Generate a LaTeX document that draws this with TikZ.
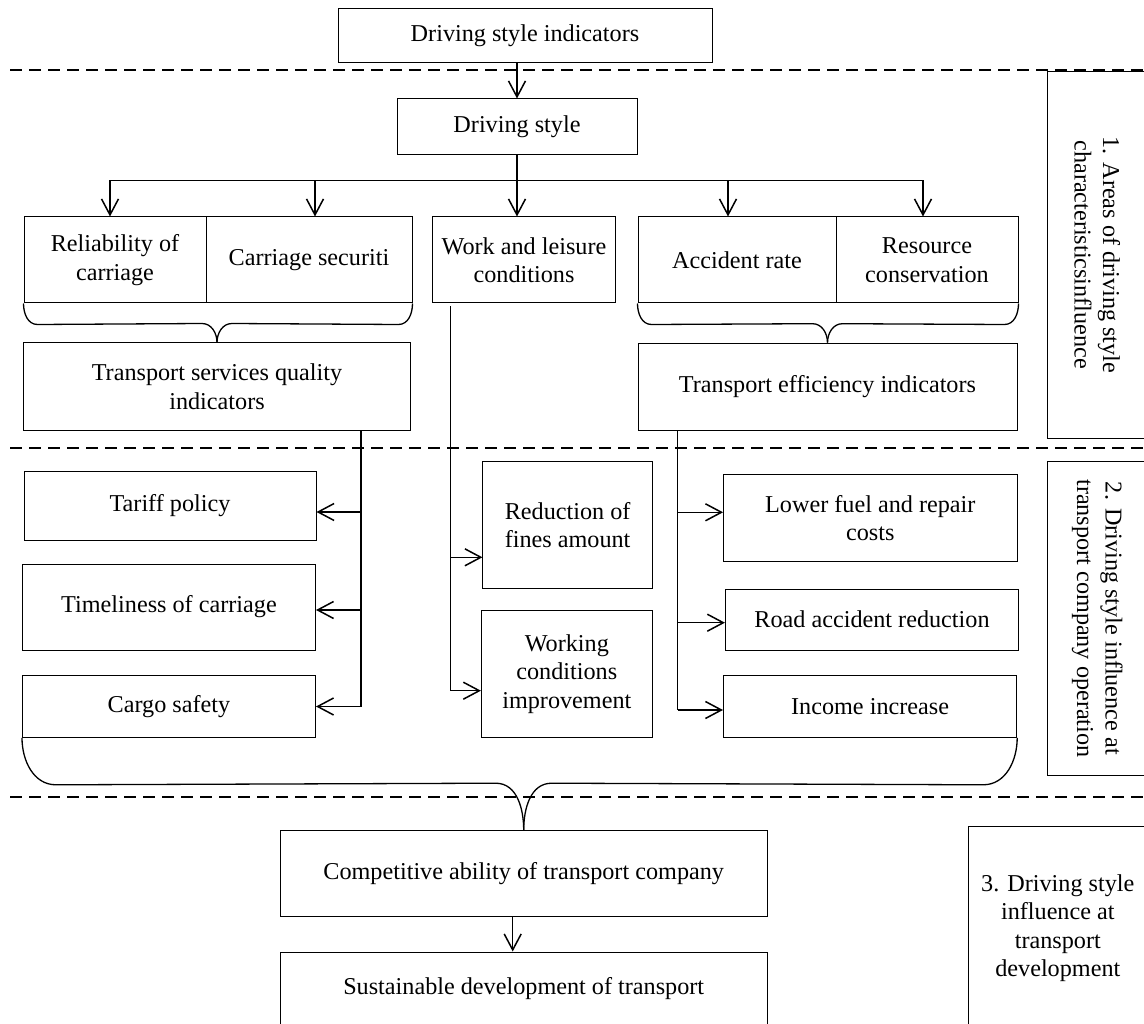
\documentclass[tikz,border=0pt]{standalone}
\usepackage{fontspec}
\setmainfont{Liberation Serif}
\usetikzlibrary{arrows.meta,calc}

\tikzset{
  box/.style={draw, line width=1pt, align=center, inner sep=2pt,
    font=\fontsize{24.2}{28.5}\selectfont},
  link/.style={line width=1.5pt},
  bracket/.style={line width=1.3pt},
  sep/.style={line width=1.3pt, dash pattern=on 12pt off 7pt},
}

\begin{document}
\begin{tikzpicture}[x=1pt, y=-1pt, >={Straight Barb[length=16pt,width=17pt]}]
        \useasboundingbox (0,0) rectangle (1144,1024);

        % zone separators
        \draw[sep] (10,70) -- (1144,70);
        \draw[sep] (10,448) -- (1144,448);
        \draw[sep] (10,797) -- (1144,797);

        % top part
        \node[box, minimum width=374pt, minimum height=54pt] (top) at (525,36) {Driving style indicators};
        \node[box, minimum width=240pt, minimum height=56pt] (style) at (517,127) {Driving style};

        \node[box, minimum width=182pt, minimum height=86pt] (reliab) at (115,260) {Reliability of\\carriage};
        \node[box, minimum width=206pt, minimum height=86pt] (secur) at (309,260) {Carriage securiti};
        \node[box, minimum width=182.5pt, minimum height=86pt] (work) at (524,260) {Work and leisure\\conditions};
        \node[box, minimum width=198pt, minimum height=86pt] (accid) at (737,260) {Accident rate};
        \node[box, minimum width=182pt, minimum height=86pt] (resour) at (927,260) {Resource\\conservation};

        \node[box, minimum width=387pt, minimum height=87pt] (tsq) at (217,386.5) {Transport services quality\\indicators};
        \node[box, minimum width=379pt, minimum height=87pt] (teff) at (827.5,386.7) {Transport efficiency indicators};

        % middle part
        \node[box, minimum width=292pt, minimum height=69pt] (tariff) at (170,506) {Tariff policy};
        \node[box, minimum width=293pt, minimum height=86pt] (timely) at (169,607) {Timeliness of carriage};
        \node[box, minimum width=293pt, minimum height=61.6pt] (cargo) at (169,706.5) {Cargo safety};

        \node[box, minimum width=169.3pt, minimum height=127.3pt] (fines) at (567.6,525.3) {Reduction of\\fines amount};
        \node[box, minimum width=170.8pt, minimum height=127.3pt] (workcond) at (566.8,673.7) {Working\\conditions\\improvement};

        \node[box, minimum width=293.5pt, minimum height=86.7pt] (fuel) at (870.3,518.3) {Lower fuel and repair\\costs};
        \node[box, minimum width=293.2pt, minimum height=60.7pt] (road) at (872,619.7) {Road accident reduction};
        \node[box, minimum width=293.2pt, minimum height=61.6pt] (income) at (870.1,706.5) {Income increase};

        % bottom part
        \node[box, minimum width=487.4pt, minimum height=86pt] (compet) at (523.7,873.7) {Competitive ability of transport company};
        \node[box, minimum width=487.4pt, minimum height=74pt] (sustain) at (523.7,989) {Sustainable development of transport};

        % zone labels
        \node[box, rotate=-90, minimum width=367.3pt, minimum height=99.6pt] (zone1) at (1097.2,254.7) {1. Areas of driving style\\characteristicsinfluence};
        \node[box, rotate=-90, minimum width=313.3pt, minimum height=99.6pt] (zone2) at (1097.2,618.4) {2. Driving style influence at\\transport company operation};
        \node[box, minimum width=178.4pt, minimum height=204pt] (zone3) at (1057.8,928) {3. Driving style\\influence at\\transport\\development};

        % arrows from the top
        \draw[link,->] (top.south -| style.north) -- (style.north);
        \coordinate (bus) at ($(style.south)+(0,25)$);
        \draw[link] (style.south) -- (bus);
        \draw[link] ([xshift=-5pt]reliab.north |- bus) -- ([xshift=-4pt]resour.north |- bus);
        \draw[link,->] ([xshift=-5pt]reliab.north |- bus) -- ([xshift=-5pt]reliab.north);
        \draw[link,->] ([xshift=6pt]secur.north |- bus) -- ([xshift=6pt]secur.north);
        \draw[link,->] (bus) -- (bus |- work.north);
        \draw[link,->] ([xshift=-9pt]accid.north |- bus) -- ([xshift=-9pt]accid.north);
        \draw[link,->] ([xshift=-4pt]resour.north |- bus) -- ([xshift=-4pt]resour.north);

        % braces
        \draw[bracket] (reliab.south west) to[out=-90,in=180] ++(14,21) -- ($(tsq.north)+(-15,-19)$) to[out=0,in=90] (tsq.north);
        \draw[bracket] (secur.south east) to[out=-90,in=0] ++(-14,21) -- ($(tsq.north)+(15,-19)$) to[out=180,in=90] (tsq.north);
        \draw[bracket] (accid.south west) to[out=-90,in=180] ++(14,21) -- ($(teff.north)+(-15,-19)$) to[out=0,in=90] (teff.north);
        \draw[bracket] (resour.south east) to[out=-90,in=0] ++(-14,21) -- ($(teff.north)+(15,-19)$) to[out=180,in=90] (teff.north);

        % quality branch
        \coordinate (qline) at ($(tsq.south east)+(-50,0)$);
        \coordinate (tariffin) at ($(tariff.east)+(0,6)$);
        \coordinate (timelyin) at ($(timely.east)+(0,3)$);
        \draw[link] (qline) -- (qline |- cargo.east);
        \draw[link,->] (qline |- tariffin) -- (tariffin);
        \draw[link,->] (qline |- timelyin) -- (timelyin);
        \draw[link,->] (qline |- cargo.east) -- (cargo.east);

        % work and leisure branch
        \coordinate (wline) at ($(work.south west)+(18,3)$);
        \coordinate (finesin) at ($(fines.west)+(0,32)$);
        \coordinate (condin) at ($(workcond.west)+(0,17)$);
        \draw[link] (wline) -- (wline |- condin);
        \draw[link,->] (wline |- finesin) -- (finesin);
        \draw[link,->] (wline |- condin) -- (condin);

        % efficiency branch
        \coordinate (eline) at ($(teff.south west)+(40,0)$);
        \coordinate (fuelin) at ($(fuel.west)+(0,-6)$);
        \coordinate (roadin) at ($(road.west)+(0,3)$);
        \coordinate (incomein) at ($(income.west)+(0,3.5)$);
        \draw[link] (eline) -- (eline |- incomein);
        \draw[link,->] (eline |- fuelin) -- (fuelin);
        \draw[link,->] (eline |- roadin) -- (roadin);
        \draw[link,->] (eline |- incomein) -- (incomein);

        % big brace
        \draw[bracket] (cargo.south west) to[out=-90,in=180] ++(34,47) -- ($(compet.north)+(-28,-47)$) to[out=0,in=90] (compet.north);
        \draw[bracket] (income.south east) to[out=-90,in=0] ++(-34,47) -- ($(compet.north)+(28,-47)$) to[out=180,in=90] (compet.north);

        \draw[link,->] ([xshift=-11pt]compet.south) -- ([xshift=-11pt]sustain.north);
\end{tikzpicture}
\end{document}
